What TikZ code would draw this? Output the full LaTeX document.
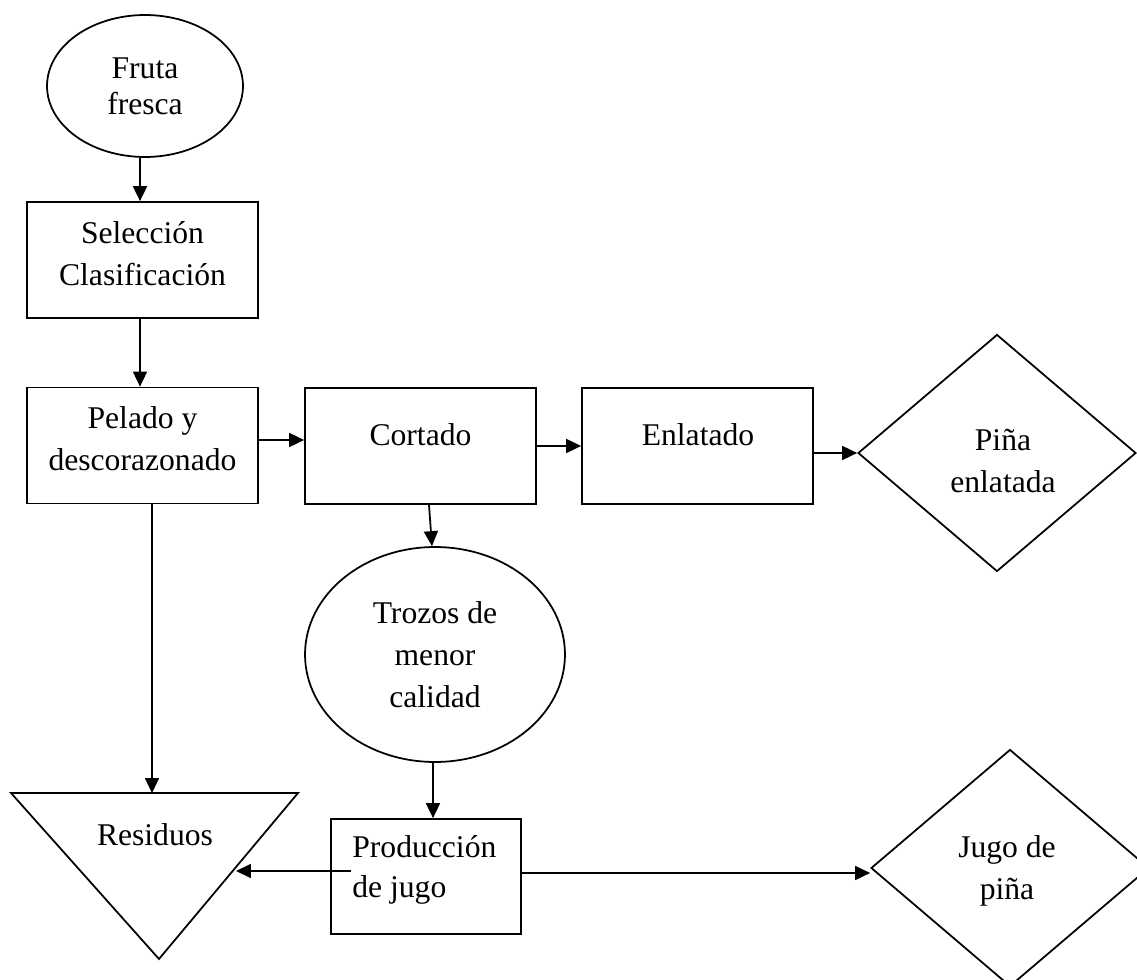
\documentclass[tikz,border=0pt]{standalone}
\usepackage{fontspec}
\setmainfont{Liberation Serif}
\usetikzlibrary{shapes.geometric,arrows.meta}
\tikzset{
  every node/.style={font=\fontsize{18}{24}\selectfont},
  shp/.style={draw=black,line width=1pt,inner sep=0pt},
  boxnode/.style={shp,rectangle,minimum width=4.62cm,minimum height=2.32cm},
  ovalnode/.style={shp,ellipse,align=center},
  dia/.style={shp,diamond,minimum width=5.56cm,minimum height=4.74cm},
  lbl/.style={align=center,inner sep=0pt},
  arr/.style={line width=1pt,-{Triangle[length=0.3cm,width=0.28cm]}},
}
\begin{document}
\begin{tikzpicture}[x=0.02cm,y=-0.02cm]
\useasboundingbox (0,0) rectangle (1137,980);
% shapes
\node[ovalnode,minimum width=3.92cm,minimum height=2.84cm,
      font=\fontsize{18}{20.5}\selectfont] (fruta) at (145,86) {Fruta\\fresca};
\node[boxnode] (sel) at (142.5,260) {};
\node[lbl] (selt) at (142.5,254) {Selección\\Clasificación};
\node[boxnode] (pel) at (142.5,445.5) {};
\node[lbl] (pelt) at (142.5,439) {Pelado y\\descorazonado};
\node[boxnode] (cor) at (420.5,446) {};
\node[lbl] (cort) at (420.5,435) {Cortado};
\node[boxnode] (enl) at (697.5,446) {};
\node[lbl] (enlt) at (698,435) {Enlatado};
\node[dia] (pina) at (997,453) {};
\node[lbl] (pinat) at (1003,461) {Piña\\enlatada};
\node[ovalnode,minimum width=5.2cm,minimum height=4.3cm] (tro) at (435,654.5) {Trozos de\\menor\\calidad};
\node[shp,rectangle,minimum width=3.8cm,minimum height=2.3cm] (prod) at (426,876.5) {};
\node[lbl,align=left,anchor=west,font=\fontsize{18}{23}\selectfont] (prodt) at (352,870) {Producción\\de jugo};
\coordinate (rtl) at (11,793);
\coordinate (rtr) at (298,793);
\coordinate (rb) at (159,959);
\draw[line width=1pt,line join=miter] (rtl) -- (rtr) -- (rb) -- cycle;
\node[lbl] (rest) at (155,835) {Residuos};
\node[dia] (jugo) at (1010,868) {};
\node[lbl] (jugot) at (1007,871) {Jugo de\\piña};
% connectors
\draw[arr] ([xshift=-0.1cm]fruta.south) -- ([xshift=-0.1cm]fruta.south |- sel.north);
\draw[arr] ([xshift=-0.05cm]sel.south) -- ([xshift=-0.05cm]sel.south |- pel.north);
\draw[arr] ([yshift=0.11cm]pel.east) -- ([yshift=0.11cm]pel.east -| cor.west);
\draw[arr] (cor.east) -- (enl.west);
\draw[arr] (enl.east |- pina.west) -- (pina.west);
\draw[arr] ([xshift=0.17cm]cor.south) -- ([xshift=-0.06cm]tro.north);
\draw[arr] ([xshift=-0.04cm]tro.south) -- ([xshift=-0.04cm]tro.south |- prod.north);
\draw[arr] ([xshift=0.19cm]pel.south) -- ([xshift=0.19cm]pel.south |- rtl);
\coordinate (pin) at (351,871);
\coordinate (rin) at (236,871);
\draw[arr] (pin) -- (rin);
\draw[arr] ([yshift=0.07cm]prod.east) -- ([yshift=0.07cm]prod.east -| jugo.west);
\end{tikzpicture}
\end{document}
